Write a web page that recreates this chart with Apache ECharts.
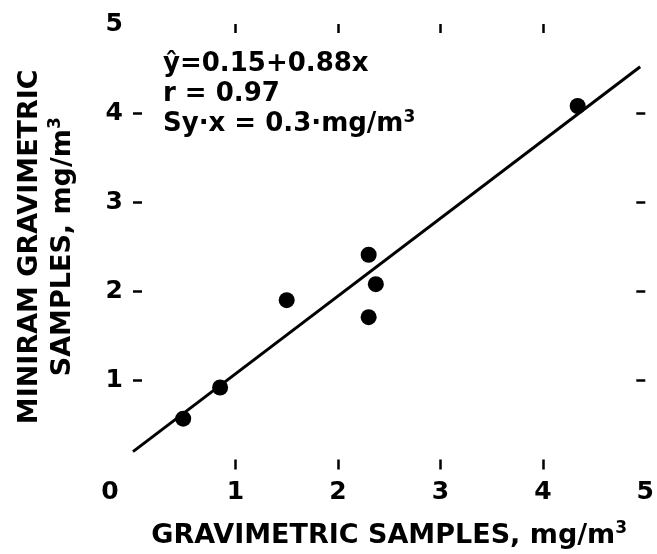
<!DOCTYPE html>
<html>
<head>
<meta charset="utf-8">
<script src="https://cdn.jsdelivr.net/npm/echarts@6/dist/echarts.min.js"></script>
<style>
  html, body { margin: 0; padding: 0; background: #fff; }
  #chart { width: 657px; height: 554px; }
</style>
</head>
<body>
<div id="chart"></div>
<script>
// sample points: gravimetric (x) vs miniram (y), mg/m3
const samplesX = [0.49, 0.85, 1.50, 2.30, 2.37, 2.30, 4.34];
const samplesY = [0.57, 0.92, 1.90, 2.41, 2.08, 1.71, 4.08];
// fitted line y = 0.15 + 0.88x, endpoints as drawn
const fitX = [0, 4.95];
const fitY = [0.2, 4.52];
const xLabels = [0, 1, 2, 3, 4, 5];
const yLabels = [1, 2, 3, 4, 5];
const tickVals = [1, 2, 3, 4];
const statLines = ['ŷ=0.15+0.88x', 'r = 0.97', 'Sy·x = 0.3·mg/m{sup|3}'];

const FONT = '"DejaVu Sans", sans-serif';
const ink = '#000';

const chart = echarts.init(document.getElementById('chart'));

function ticks(len) {
  return { show: true, inside: true, length: len, customValues: tickVals, lineStyle: { color: ink, width: 2.5 } };
}
function bare(extra) {
  return Object.assign({
    type: 'value', min: 0, max: 5, interval: 1, show: true,
    axisLine: { show: false, onZero: false }, splitLine: { show: false }
  }, extra);
}
// mirror axes: ticks only
const blankLabels = { show: false };
const supRich = { sup: { fontFamily: FONT, fontWeight: 'bold', fontSize: 17, color: ink, padding: [0, 0, 13, 0] } };

const option = {
  animation: false,
  backgroundColor: '#fff',
  grid: { left: 133, right: 9, top: 24, bottom: 80 },
  xAxis: [
    bare({
      position: 'bottom',
      axisTick: ticks(10),
      axisLabel: {
        customValues: xLabels, margin: 10,
        color: ink, fontFamily: FONT, fontWeight: 'bold', fontSize: 25,
        formatter: v => v === 0 ? '{z|0}' : String(v),
        rich: { z: { padding: [0, 46, 0, 0], fontFamily: FONT, fontWeight: 'bold', fontSize: 25, color: ink } }
      },
      name: 'GRAVIMETRIC SAMPLES, mg/m{sup|3}', nameLocation: 'middle', nameGap: 51,
      nameTextStyle: { color: ink, fontFamily: FONT, fontWeight: 'bold', fontSize: 27, rich: supRich }
    }),
    bare({ position: 'top', axisTick: ticks(9), axisLabel: blankLabels })
  ],
  yAxis: [
    bare({
      position: 'left',
      axisTick: ticks(9),
      axisLabel: {
        customValues: yLabels, margin: 10,
        color: ink, fontFamily: FONT, fontWeight: 'bold', fontSize: 25
      },
      name: 'MINIRAM GRAVIMETRIC\nSAMPLES, mg/m{sup|3}', nameLocation: 'middle', nameGap: 54, nameRotate: 90,
      nameTextStyle: { color: ink, fontFamily: FONT, fontWeight: 'bold', fontSize: 27, lineHeight: 33, align: 'center', rich: supRich }
    }),
    bare({ position: 'right', axisTick: ticks(9), axisLabel: blankLabels })
  ],
  graphic: [{
    type: 'text', left: 163, top: 49,
    style: {
      text: statLines.join('\n'), fill: ink, font: 'bold 26px ' + FONT, lineHeight: 30,
      rich: { sup: { font: 'bold 17px ' + FONT, fill: ink, padding: [0, 0, 13, 0] } }
    }
  }],
  series: [
    {
      type: 'line', data: fitX.map((x, i) => [x, fitY[i]]),
      symbol: 'none', lineStyle: { color: ink, width: 3 }, z: 2
    },
    {
      type: 'scatter', data: samplesX.map((x, i) => [x, samplesY[i]]),
      symbolSize: 16, itemStyle: { color: ink, opacity: 1 }, z: 3
    }
  ]
};

chart.setOption(option);
</script>
</body>
</html>
